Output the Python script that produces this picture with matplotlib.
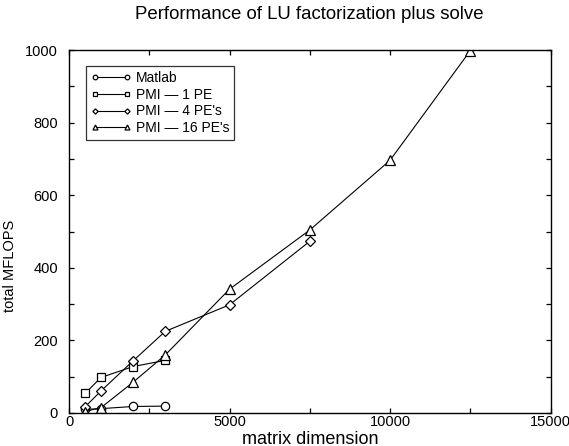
import matplotlib
matplotlib.use("Agg")
import matplotlib.pyplot as plt
from matplotlib.ticker import MultipleLocator

plt.rcParams['font.family'] = ['Liberation Sans', 'DejaVu Sans']

matlab_x = [500, 1000, 2000, 3000]
matlab_y = [10, 12, 18, 19]
pe1_x = [500, 1000, 2000, 3000]
pe1_y = [54, 98, 128, 145]
pe4_x = [500, 1000, 2000, 3000, 5000, 7500]
pe4_y = [17, 61, 144, 225, 298, 473]
pe16_x = [500, 1000, 2000, 3000, 5000, 7500, 10000, 12500]
pe16_y = [4, 15, 85, 160, 341, 504, 696, 998]

labels = ["Matlab", "PMI \u2014 1 PE", "PMI \u2014 4 PE's", "PMI \u2014 16 PE's"]

fig = plt.figure(figsize=(5.69, 4.46), dpi=100)
ax = fig.add_axes([69 / 569, 33 / 446, 481.5 / 569, 363 / 446])

kw = dict(color='black', lw=0.8, mfc='white', mec='black', mew=0.9)
ax.plot(matlab_x, matlab_y, marker='o', ms=6, label=labels[0], **kw)
ax.plot(pe1_x, pe1_y, marker='s', ms=6, label=labels[1], **kw)
ax.plot(pe4_x, pe4_y, marker='D', ms=4.8, label=labels[2], **kw)
ax.plot(pe16_x, pe16_y, marker='^', ms=6.5, label=labels[3], **kw)

ax.set_xlim(0, 15000)
ax.set_ylim(0, 1000)
ax.xaxis.set_major_locator(MultipleLocator(5000))
ax.xaxis.set_minor_locator(MultipleLocator(2500))
ax.yaxis.set_major_locator(MultipleLocator(200))
ax.yaxis.set_minor_locator(MultipleLocator(100))
ax.tick_params(which='both', direction='in', top=True, right=True,
               labelsize=10.5, length=3.5, width=0.9)
ax.tick_params(axis='y', pad=8)
ax.tick_params(axis='x', pad=1.8)
for s in ax.spines.values():
    s.set_linewidth(1.0)

ax.set_xlabel("matrix dimension", fontsize=13)
ax.xaxis.set_label_coords(0.5, -0.05)
ax.set_ylabel("total MFLOPS", fontsize=10.5)
ax.yaxis.set_label_coords(-0.108, 0.405)
ax.set_title("Performance of LU factorization plus solve", fontsize=13.4, pad=22)

leg = ax.legend(loc='upper left', bbox_to_anchor=(0.035, 0.956), numpoints=2,
                markerscale=0.55, fontsize=10, frameon=True, fancybox=False,
                edgecolor='black', handlelength=2.9, handletextpad=0.35,
                labelspacing=0.2, borderpad=0.35, borderaxespad=0)
leg.get_frame().set_linewidth(0.9)

fig.savefig("out.png", dpi=100)
